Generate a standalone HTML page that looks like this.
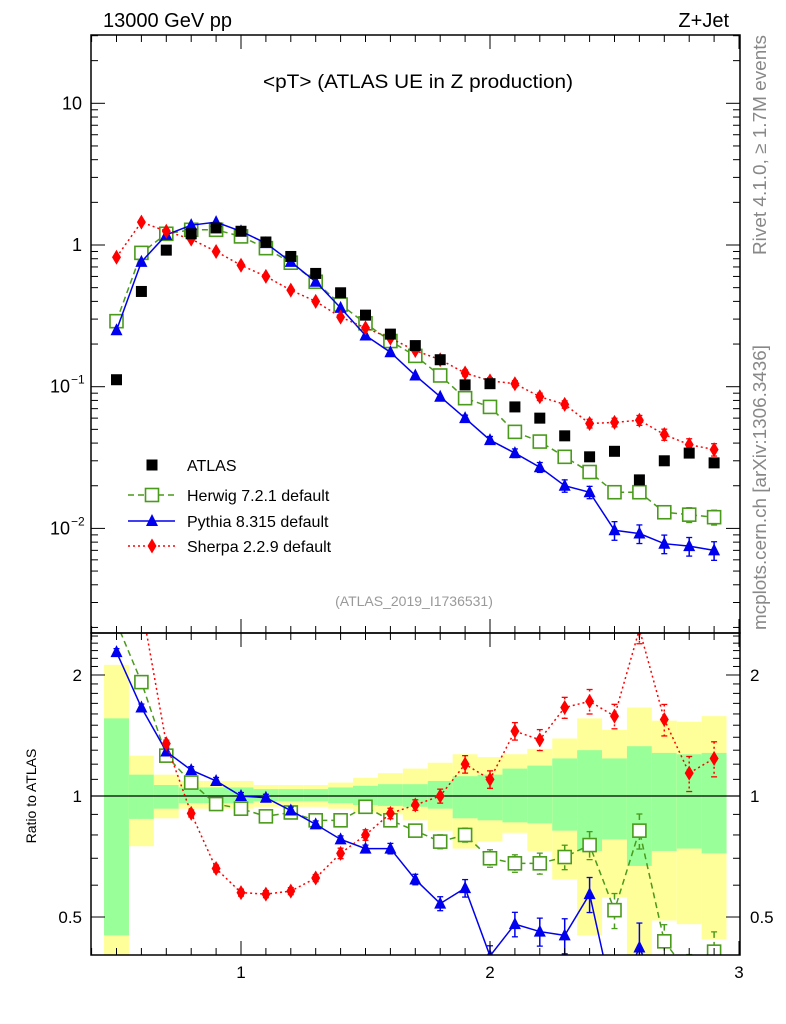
<!DOCTYPE html>
<html><head><meta charset="utf-8"><style>
html,body{margin:0;padding:0;background:#fff;}
svg{display:block;font-family:"Liberation Sans",sans-serif;}
</style></head><body>
<svg id="plot" width="786" height="1024" viewBox="0 0 786 1024" xmlns="http://www.w3.org/2000/svg">
<text x="103" y="27" font-size="20">13000 GeV pp</text>
<text x="729" y="27" font-size="20" text-anchor="end">Z+Jet</text>
<text x="418" y="88" font-size="19" text-anchor="middle" textLength="310" lengthAdjust="spacingAndGlyphs">&lt;pT&gt; (ATLAS UE in Z production)</text>
<text x="414" y="606" font-size="14" fill="#999" text-anchor="middle">(ATLAS_2019_I1736531)</text>
<text transform="translate(766,255) rotate(-90)" font-size="18" fill="#888" textLength="220" lengthAdjust="spacingAndGlyphs">Rivet 4.1.0, ≥ 1.7M events</text>
<text transform="translate(766,630) rotate(-90)" font-size="18" fill="#888" textLength="285" lengthAdjust="spacingAndGlyphs">mcplots.cern.ch [arXiv:1306.3436]</text>
<text transform="translate(36,796) rotate(-90)" font-size="14" text-anchor="middle">Ratio to ATLAS</text>
<g id="bands"></g><g id="series"></g><g id="axes"></g><g id="legend"></g>
</svg>
<script>
const xs=[0.5,0.6,0.7,0.8,0.9,1.0,1.1,1.2,1.3,1.4,1.5,1.6,1.7,1.8,1.9,2.0,2.1,2.2,2.3,2.4,2.5,2.6,2.7,2.8,2.9];
const atlas=[0.112,0.47,0.92,1.2,1.32,1.25,1.05,0.83,0.63,0.46,0.32,0.235,0.195,0.155,0.103,0.105,0.072,0.06,0.045,0.032,0.035,0.022,0.03,0.034,0.029];
const herwig=[0.29,0.88,1.2,1.28,1.28,1.15,0.95,0.75,0.55,0.38,0.28,0.21,0.165,0.12,0.083,0.072,0.048,0.041,0.032,0.025,0.018,0.018,0.013,0.0125,0.012];
const pythia=[0.25,0.76,1.18,1.38,1.45,1.25,1.03,0.76,0.55,0.36,0.23,0.175,0.12,0.085,0.06,0.042,0.034,0.027,0.02,0.018,0.0097,0.0092,0.0078,0.0075,0.007];
const sherpa=[0.82,1.45,1.25,1.1,0.9,0.72,0.6,0.48,0.4,0.31,0.26,0.22,0.18,0.155,0.125,0.11,0.105,0.085,0.075,0.055,0.056,0.058,0.046,0.039,0.036];
const herwigRelErr=[0.02,0.02,0.02,0.02,0.02,0.02,0.02,0.02,0.02,0.02,0.02,0.03,0.03,0.04,0.04,0.05,0.05,0.06,0.07,0.08,0.1,0.1,0.1,0.12,0.12];
const pythiaRelErr=[0.02,0.02,0.02,0.02,0.02,0.02,0.02,0.02,0.02,0.02,0.02,0.03,0.03,0.04,0.05,0.06,0.07,0.08,0.1,0.1,0.15,0.15,0.15,0.15,0.15];
const sherpaRelErr=[0.02,0.02,0.02,0.02,0.02,0.02,0.02,0.02,0.02,0.03,0.03,0.03,0.03,0.04,0.05,0.05,0.05,0.06,0.06,0.07,0.07,0.08,0.09,0.1,0.1];
const herwigRatio=[2.7,1.92,1.26,1.08,0.955,0.93,0.89,0.91,0.87,0.87,0.94,0.87,0.82,0.77,0.8,0.7,0.68,0.68,0.705,0.755,0.52,0.82,0.435,0.36,0.41];
const pythiaRatio=[2.28,1.66,1.29,1.16,1.09,1.0,0.99,0.92,0.85,0.78,0.74,0.74,0.62,0.54,0.59,0.4,0.48,0.46,0.45,0.57,0.3,0.42,0.3,0.3,0.3];
const sherpaRatio=[7,3,1.35,0.905,0.66,0.575,0.57,0.58,0.625,0.72,0.8,0.905,0.95,1.0,1.2,1.1,1.45,1.38,1.66,1.72,1.58,2.6,1.55,1.14,1.24];
const yellowHi=[2.12,1.26,1.13,1.09,1.09,1.09,1.065,1.065,1.065,1.08,1.11,1.14,1.17,1.21,1.27,1.25,1.27,1.31,1.39,1.56,1.46,1.66,1.54,1.53,1.58];
const greenHi=[1.56,1.13,1.065,1.05,1.05,1.05,1.04,1.04,1.04,1.05,1.06,1.07,1.07,1.09,1.12,1.13,1.17,1.19,1.24,1.3,1.24,1.33,1.28,1.27,1.28];
const greenLo=[0.45,0.877,0.93,0.96,0.96,0.96,0.97,0.97,0.97,0.96,0.95,0.945,0.94,0.93,0.88,0.87,0.86,0.855,0.82,0.73,0.78,0.67,0.73,0.74,0.72];
const yellowLo=[0.3,0.75,0.88,0.93,0.93,0.93,0.94,0.94,0.94,0.93,0.91,0.9,0.87,0.82,0.74,0.77,0.81,0.73,0.62,0.45,0.56,0.3,0.49,0.48,0.44];

const NS='http://www.w3.org/2000/svg';
const L=91,R=740,T=35,M=633,B=955;
const X=v=>241+(v-1)*249;
const Ym=v=>245-141.7*Math.log10(v);
const Yr=v=>796-402*Math.log10(v);
function mk(tag,attrs,parent){const e=document.createElementNS(NS,tag);for(const k in attrs)e.setAttribute(k,attrs[k]);parent.appendChild(e);return e;}
const gB=document.getElementById('bands'),gS=document.getElementById('series'),gA=document.getElementById('axes'),gL=document.getElementById('legend');

const defs=mk('defs',{},document.getElementById('plot'));
const c1=mk('clipPath',{id:'cm'},defs);mk('rect',{x:L,y:T,width:R-L,height:M-T},c1);
const c2=mk('clipPath',{id:'cr'},defs);mk('rect',{x:L,y:M,width:R-L,height:B-M},c2);

const bandG=mk('g',{'clip-path':'url(#cr)'},gB);
xs.forEach((x,i)=>{
  const x0=X(x-0.05),w=X(x+0.05)-x0;
  const ry=mk('rect',{x:x0,y:Yr(yellowHi[i]),width:w,height:Yr(yellowLo[i])-Yr(yellowHi[i]),fill:'#ffff99'},bandG);
  
  
  const rg=mk('rect',{x:x0,y:Yr(greenHi[i]),width:w,height:Yr(greenLo[i])-Yr(greenHi[i]),fill:'#99ff99'},bandG);
  
  
});
mk('line',{x1:L,x2:R,y1:Yr(1),y2:Yr(1),stroke:'#000','stroke-width':1.3},bandG);

function marker(g,type,cx,cy,color){
  if(type==='sq'){return mk('rect',{x:cx-5.5,y:cy-5.5,width:11,height:11,fill:color},g);}
  if(type==='osq'){return mk('rect',{x:cx-6.5,y:cy-6.5,width:13,height:13,fill:'#fff',stroke:color,'stroke-width':1.6},g);}
  if(type==='tri'){return mk('polygon',{points:`${cx},${cy-7} ${cx-6},${cy+5} ${cx+6},${cy+5}`,fill:color},g);}
  return mk('polygon',{points:`${cx},${cy-7.5} ${cx-4.5},${cy} ${cx},${cy+7.5} ${cx+4.5},${cy}`,fill:color},g);
}
function drawSeries(vals,rel,Yf,clip,color,dash,type,name){
  const g=mk('g',{'clip-path':clip},gS);
  
  
  if(dash!==null){
    const pts=xs.map((x,i)=>X(x)+','+Yf(vals[i])).join(' ');
    mk('polyline',{points:pts,fill:'none',stroke:color,'stroke-width':1.5,'stroke-dasharray':dash},g);
  }
  xs.forEach((x,i)=>{
    if(rel){const lo=Yf(vals[i]*(1-rel[i])),hi=Yf(vals[i]*(1+rel[i]));
      if(lo-hi>6){mk('line',{x1:X(x),x2:X(x),y1:hi,y2:lo,stroke:color,'stroke-width':1.5,'stroke-dasharray':dash||''},g);
      mk('line',{x1:X(x)-3,x2:X(x)+3,y1:hi,y2:hi,stroke:color,'stroke-width':1.3},g);
      mk('line',{x1:X(x)-3,x2:X(x)+3,y1:lo,y2:lo,stroke:color,'stroke-width':1.3},g);}}
    const m=marker(g,type,X(x),Yf(vals[i]),color);
    
    
  });
}
drawSeries(herwig,herwigRelErr,Ym,'url(#cm)','#4a9a1c','6,4','osq','herwig-main');
drawSeries(pythia,pythiaRelErr,Ym,'url(#cm)','#0000ee','','tri','pythia-main');
drawSeries(sherpa,sherpaRelErr,Ym,'url(#cm)','#ff0000','2,3','dia','sherpa-main');
drawSeries(atlas,null,Ym,'url(#cm)','#000',null,'sq','atlas-data');
drawSeries(herwigRatio,herwigRelErr,Yr,'url(#cr)','#4a9a1c','6,4','osq','herwig-ratio');
drawSeries(pythiaRatio,pythiaRelErr,Yr,'url(#cr)','#0000ee','','tri','pythia-ratio');
drawSeries(sherpaRatio,sherpaRelErr,Yr,'url(#cr)','#ff0000','2,3','dia','sherpa-ratio');

const f1=mk('rect',{x:L,y:T,width:R-L,height:M-T,fill:'none',stroke:'#000','stroke-width':1.5},gA);

const f2=mk('rect',{x:L,y:M,width:R-L,height:B-M,fill:'none',stroke:'#000','stroke-width':1.5},gA);

const ln=(x1,y1,x2,y2)=>mk('line',{x1,y1,x2,y2,stroke:'#000','stroke-width':1},gA);
for(let k=4;k<=30;k++){const v=k/10,x=X(v);if(x<L||x>R)continue;const maj=k%10===0;const len=maj?14:7;
  ln(x,M,x,M-len);ln(x,T,x,T+len);ln(x,B,x,B-len);ln(x,M,x,M+len);}
const xTickLabels=['1','2','3'];
xTickLabels.forEach(s=>{const t=mk('text',{x:X(+s),y:978,'font-size':17,'text-anchor':'middle'},gA);t.textContent=s;
  });
for(let d=-3;d<=1;d++){for(let m=1;m<=9;m++){const v=m*Math.pow(10,d),y=Ym(v);if(y<T||y>M)continue;const len=m===1?14:7;ln(L,y,L+len,y);ln(R,y,R-len,y);}}
const yMainTicks=[10,1,0.1,0.01];
const yMainLabels=['10','1','10','10'];
const yMainExp=['','','−1','−2'];
yMainTicks.forEach((v,i)=>{const t=mk('text',{x:yMainExp[i]?70:82,y:Ym(v)+6,'font-size':18,'text-anchor':'end'},gA);t.textContent=yMainLabels[i];
  
  if(yMainExp[i]){const e=mk('text',{x:71,y:Ym(v)-3,'font-size':12},gA);e.textContent=yMainExp[i];}});
const ratioMinor=[0.5,0.6,0.7,0.8,0.9,1,1.1,1.2,1.3,1.4,1.5,1.6,1.7,1.8,1.9,2,2.1,2.2,2.3,2.4,2.5];
ratioMinor.forEach(v=>{const y=Yr(v);if(y<M||y>B)return;const maj=(v===0.5||v===1||v===2);const len=maj?14:7;ln(L,y,L+len,y);ln(R,y,R-len,y);});
const ratioLabels=['0.5','1','2'];
ratioLabels.forEach(s=>{const y=Yr(+s)+6;
  const a=mk('text',{x:82,y,'font-size':17,'text-anchor':'end'},gA);a.textContent=s;
  const b=mk('text',{x:750,y,'font-size':17},gA);b.textContent=s;});

const legendNames=['ATLAS','Herwig 7.2.1 default','Pythia 8.315 default','Sherpa 2.2.9 default'];
const legY=[465,495,521,546];
const legC=['#000','#4a9a1c','#0000ee','#ff0000'],legT=['sq','osq','tri','dia'],legD=[null,'6,4','','2,3'];
legendNames.forEach((n,i)=>{const g=mk('g',{},gL);
  
  
  if(legD[i]!==null)mk('line',{x1:128,x2:175,y1:legY[i],y2:legY[i],stroke:legC[i],'stroke-width':1.5,'stroke-dasharray':legD[i]},g);
  marker(g,legT[i],152,legY[i],legC[i]);
  const t=mk('text',{x:187,y:legY[i]+6,'font-size':16},g);t.textContent=n;});
</script>
</body></html>
